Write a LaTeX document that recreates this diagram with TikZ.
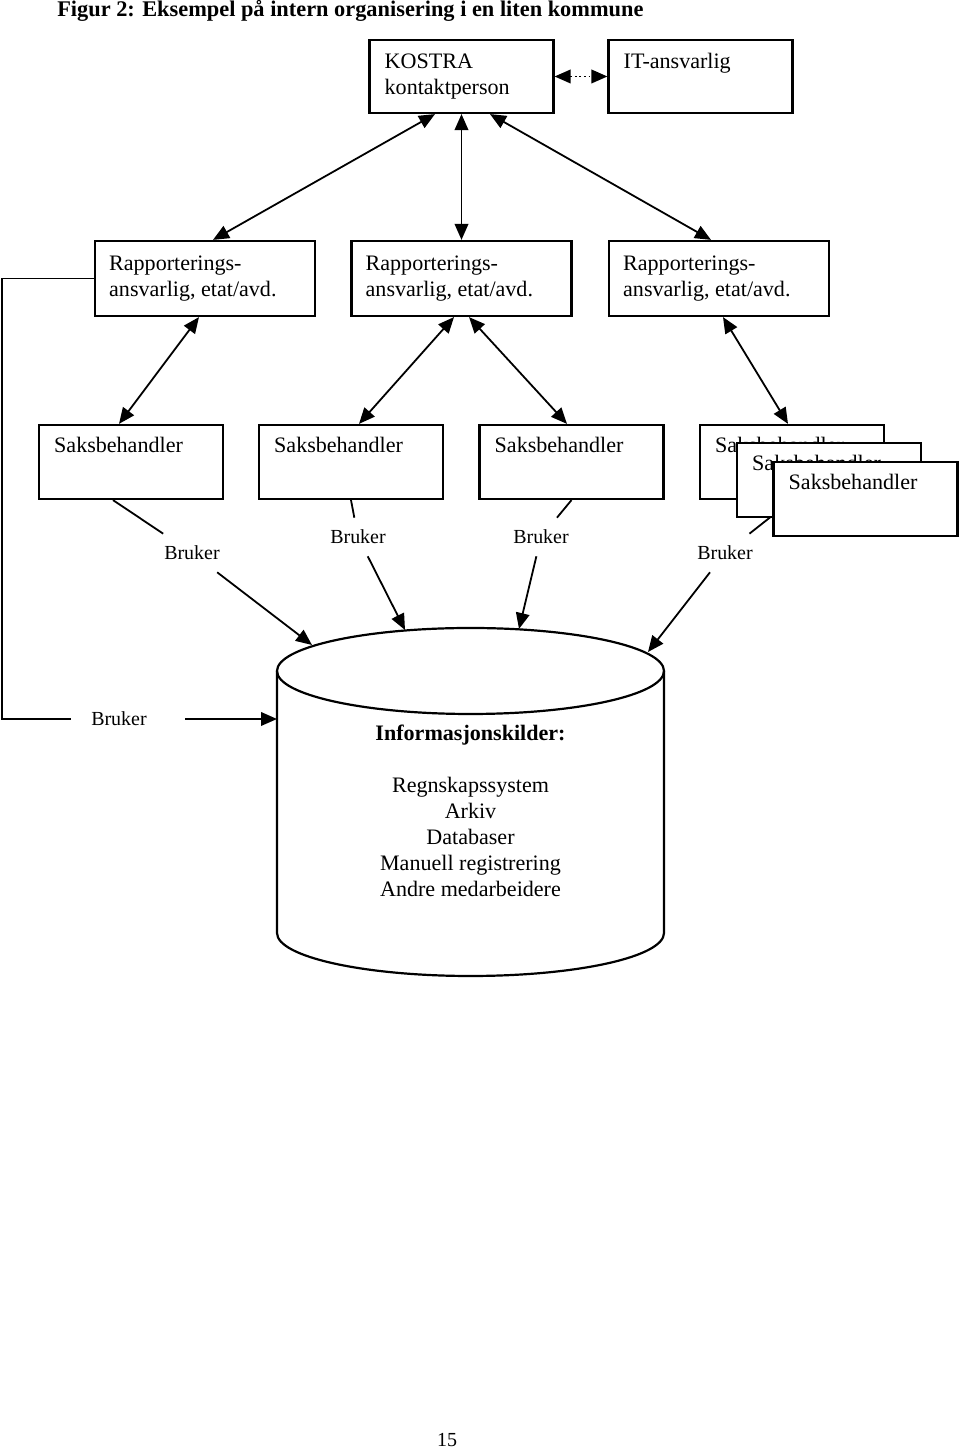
\documentclass[tikz,border=0pt]{standalone}
\usepackage{fontspec}
\setmainfont{Liberation Serif}
\usetikzlibrary{arrows.meta}

\tikzset{
  orgbox/.style={draw, fill=white, line width=0.055cm, inner sep=0cm},
  topbox/.style={orgbox, minimum width=4.6cm, minimum height=1.825cm},
  rapbox/.style={orgbox, minimum width=5.5cm, minimum height=1.875cm},
  saksbox/.style={orgbox, minimum width=4.6cm, minimum height=1.85cm},
  boxlabel/.style={anchor=north west, inner sep=0cm, align=left, font=\fontsize{15.7}{18.4}\selectfont},
  userlabel/.style={inner xsep=0.1cm, inner ysep=0.3cm, font=\fontsize{14.2}{16.8}\selectfont},
  userline/.style={line width=0.045cm},
  oneway/.style={userline, -{Triangle[length=0.4cm,width=0.34cm]}},
  twoway/.style={userline, {Triangle[length=0.4cm,width=0.34cm]}-{Triangle[length=0.4cm,width=0.34cm]}}
}

\begin{document}
\begin{tikzpicture}
            \useasboundingbox (0,0) rectangle (24.000000,36.250000);
            
            % Title
            \node [anchor=base west, inner sep=0cm, font=\fontsize{15.9}{18.4}\selectfont\bfseries] (title) at (1.425000,35.825000) {Figur 2: Eksempel på intern organisering i en liten kommune};%
            
            % Boxes KOSTRA and IT
            \node [topbox] (kostra) at (11.537500,34.337500) {};%
            \node [boxlabel] (kostraT) at ([xshift=0.4cm,yshift=-0.36cm]kostra.north west) {KOSTRA\\kontaktperson};%
            \node [topbox] (it) at (17.512500,34.337500) {};%
            \node [boxlabel] (itT) at ([xshift=0.4cm,yshift=-0.36cm]it.north west) {IT-ansvarlig};%
            
            % Boxes rapporteringsansvarlig
            \node [rapbox] (rap1) at (5.125000,29.287500) {};%
            \node [boxlabel] (rap1T) at ([xshift=0.375cm,yshift=-0.4cm]rap1.north west) {Rapporterings-\\ansvarlig, etat/avd.};%
            \node [rapbox] (rap2) at (11.537500,29.287500) {};%
            \node [boxlabel] (rap2T) at ([xshift=0.375cm,yshift=-0.4cm]rap2.north west) {Rapporterings-\\ansvarlig, etat/avd.};%
            \node [rapbox] (rap3) at (17.975000,29.287500) {};%
            \node [boxlabel] (rap3T) at ([xshift=0.375cm,yshift=-0.4cm]rap3.north west) {Rapporterings-\\ansvarlig, etat/avd.};%
            
            % Labels Bruker
            \node [userlabel] (b1) at (4.800000,22.425000) {Bruker};%
            \node [userlabel] (b2) at (8.950000,22.825000) {Bruker};%
            \node [userlabel] (b3) at (13.525000,22.825000) {Bruker};%
            \node [userlabel] (b4) at (18.125000,22.425000) {Bruker};%
            \node [userlabel, inner xsep=0.1cm] (b0) at (2.975000,18.275000) {Bruker};%
            
            % Boxes saksbehandler
            \node [saksbox] (saks1) at (3.275000,24.700000) {};%
            \node [boxlabel] (saks1T) at ([xshift=0.4cm,yshift=-0.33cm]saks1.north west) {Saksbehandler};%
            \node [saksbox] (saks2) at (8.775000,24.700000) {};%
            \node [boxlabel] (saks2T) at ([xshift=0.4cm,yshift=-0.33cm]saks2.north west) {Saksbehandler};%
            \node [saksbox] (saks3) at (14.287500,24.700000) {};%
            \node [boxlabel] (saks3T) at ([xshift=0.4cm,yshift=-0.33cm]saks3.north west) {Saksbehandler};%
            \node [saksbox] (saks4) at (19.800000,24.700000) {};%
            \node [boxlabel] (saks4T) at ([xshift=0.4cm,yshift=-0.33cm]saks4.north west) {Saksbehandler};%
            
            % Drawing segment saks4 b4 (behind the stack)
            \draw [userline] (saks4.south) -- (b4);%
            
            \node [saksbox] (saks5) at (20.725000,24.250000) {};%
            \node [boxlabel] (saks5T) at ([xshift=0.4cm,yshift=-0.33cm]saks5.north west) {Saksbehandler};%
            \node [saksbox] (saks6) at (21.637500,23.775000) {};%
            \node [boxlabel] (saks6T) at ([xshift=0.4cm,yshift=-0.33cm]saks6.north west) {Saksbehandler};%
            
            % Drawing segment kostra it
            \draw [twoway, dotted] (kostra) -- (it);%
            
            % Drawing segments kostra rap
            \draw [twoway] ([xshift=-0.6625cm]kostra.south) -- ([xshift=0.2cm]rap1.north);%
            \draw [twoway] (kostra.south) -- (rap2.north);%
            \draw [twoway] ([xshift=0.7125cm]kostra.south) -- ([xshift=-0.2cm]rap3.north);%
            
            % Drawing segments rap saks
            \draw [twoway] ([xshift=-0.15cm]rap1.south) -- ([xshift=-0.3cm]saks1.north);%
            \draw [twoway] ([xshift=-0.1875cm]rap2.south) -- ([xshift=0.2cm]saks2.north);%
            \draw [twoway] ([xshift=0.1875cm]rap2.south) -- ([xshift=-0.1125cm]saks3.north);%
            \draw [twoway] ([xshift=0.1cm]rap3.south) -- ([xshift=-0.1cm]saks4.north);%
            
            % Cylinder Informasjonskilder
            \draw [line width=0.055cm] (11.762500,19.475000) ellipse (4.837500cm and 1.075000cm);%
            \draw [line width=0.055cm] (6.925000,19.475000) -- (6.925000,12.925000) arc (180:360:4.837500cm and 1.075000cm) -- (16.600000,19.475000);%
            \node [anchor=north, inner sep=0cm, align=center, font=\fontsize{15.7}{18.4}\selectfont] (kilder) at (11.762500,18.125000)
              {\textbf{Informasjonskilder:}\\[18.4pt]Regnskapssystem\\Arkiv\\Databaser\\Manuell registrering\\Andre medarbeidere};%
            \coordinate (c1) at (7.800000,20.125000);
            \coordinate (c2) at (10.125000,20.500000);
            \coordinate (c3) at (12.975000,20.525000);
            \coordinate (c4) at (16.200000,19.950000);
            \coordinate (c0) at (6.925000,18.275000);
            
            % Drawing segments saks bruker cylinder
            \draw [userline] ([xshift=-0.45cm]saks1.south) -- (b1);%
            \draw [oneway] (b1) -- (c1);%
            \draw [userline] (saks2.south) -- (b2);%
            \draw [oneway] (b2) -- (c2);%
            \draw [userline] (saks3.south) -- (b3);%
            \draw [oneway] (b3) -- (c3);%
            \draw [oneway] (b4) -- (c4);%
            
            % Drawing segment rap1 b0 cylinder
            \draw [userline, shorten >=0.4cm] (rap1.west) -| (0.060000,18.275000) -- (b0.west);%
            \draw [oneway, shorten <=0.86cm] (b0.east) -- (c0);%
            
            % Page number
            \node [font=\fontsize{14.2}{16.8}\selectfont] (pagenum) at (11.175000,0.250000) {15};%
        \end{tikzpicture}
\end{document}
